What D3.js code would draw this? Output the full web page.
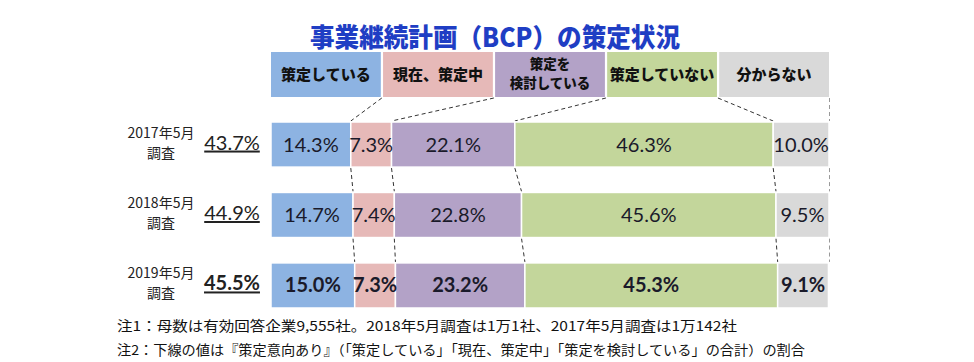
<!DOCTYPE html>
<html>
<head>
<meta charset="utf-8">
<script src="https://cdn.jsdelivr.net/npm/d3@7"></script>
<style>
  body { margin: 0; background: #fff; }
</style>
</head>
<body>
<div id="chart"></div>
<script>
const title = '事業継続計画（BCP）の策定状況'
const categories = ['策定している', '現在、策定中', '策定を|検討している', '策定していない', '分からない']
const colors = ['#8db3e2', '#e6b9b8', '#b3a2c7', '#c3d69b', '#d9d9d9']
const surveys = ['2017年5月', '2018年5月', '2019年5月']
const values2017 = [14.3, 7.3, 22.1, 46.3, 10.0]
const values2018 = [14.7, 7.4, 22.8, 45.6, 9.5]
const values2019 = [15.0, 7.3, 23.2, 45.3, 9.1]
const intentShare = [43.7, 44.9, 45.5]
const notes = [
  '注1：母数は有効回答企業9,555社。2018年5月調査は1万1社、2017年5月調査は1万142社',
  '注2：下線の値は『策定意向あり』（「策定している」「現在、策定中」「策定を検討している」の合計）の割合'
]

const W = 974, H = 362
const jp = '"Noto Sans CJK JP", sans-serif'
const num = 'Lato, "Open Sans", sans-serif'
const fmt = d => d3.format('.1f')(d) + '%'

const rows = [values2017, values2018, values2019]

const svg = d3.select('#chart').append('svg')
  .attr('width', W).attr('height', H)

const x = d3.scaleLinear().domain([0, 100]).range([271, 829])
const y = d3.scaleBand().domain(surveys).range([122, 308]).paddingInner(0.36)
const legendX = d3.scaleBand().domain(categories).range([271, 829]).paddingInner(0.02)
const legendTop = 52, legendBottom = 97

// title
svg.append('text')
  .attr('x', 310).attr('y', 47)
  .attr('textLength', 370)
  .attr('lengthAdjust', 'spacingAndGlyphs')
  .style('font-family', jp)
  .style('font-weight', 900)
  .style('font-size', '26px')
  .style('fill', '#1f3ec4')
  .text(title)

// legend boxes
const legend = svg.append('g').attr('class', 'legend')
legend.selectAll('rect')
  .data(categories)
  .enter()
  .append('rect')
  .attr('x', d => legendX(d))
  .attr('y', legendTop)
  .attr('width', legendX.bandwidth())
  .attr('height', legendBottom - legendTop)
  .style('fill', (d, i) => colors[i])

legend.selectAll('text')
  .data(categories)
  .enter()
  .append('text')
  .attr('x', d => legendX(d) + legendX.bandwidth() / 2)
  .attr('y', d => d.includes('|') ? 69 : 80)
  .attr('text-anchor', 'middle')
  .style('font-family', jp)
  .style('font-weight', 900)
  .style('font-size', d => d.includes('|') ? '13.5px' : '15px')
  .style('fill', '#111')
  .each(function (d) {
    const parts = d.split('|')
    d3.select(this).selectAll('tspan')
      .data(parts)
      .enter()
      .append('tspan')
      .attr('x', legendX(d) + legendX.bandwidth() / 2)
      .attr('dy', (p, i) => i === 0 ? 0 : 19)
      .text(p => p)
  })

// cumulative boundaries per row
const bounds = rows.map(r => {
  let acc = 0
  return r.map(v => { const s = acc; acc += v; return { start: s, end: acc, value: v } })
})

// dashed connectors: legend -> first row
const dash = svg.append('g').attr('class', 'connectors')
  .style('fill', 'none')
  .style('stroke-dasharray', '4,3')

for (let i = 0; i < categories.length; i++) {
  const last = i === categories.length - 1
  dash.append('line')
    .attr('x1', last ? 829.5 : legendX(categories[i]) + legendX.bandwidth() + 1)
    .attr('y1', legendBottom + 1)
    .attr('x2', last ? 829.5 : x(bounds[0][i].end))
    .attr('y2', y(surveys[0]) - 1)
    .style('stroke', last ? '#999' : '#333')
    .style('stroke-width', 1)
}

// dashed connectors between rows
for (let r = 0; r < rows.length - 1; r++) {
  for (let i = 0; i < categories.length; i++) {
    const last = i === categories.length - 1
    dash.append('line')
      .attr('x1', last ? 829.5 : x(bounds[r][i].end))
      .attr('y1', y(surveys[r]) + y.bandwidth() + 1)
      .attr('x2', last ? 829.5 : x(bounds[r + 1][i].end))
      .attr('y2', y(surveys[r + 1]) - 1)
      .style('stroke', last ? '#999' : '#333')
      .style('stroke-width', 1)
  }
}

// bars
const rowG = svg.selectAll('.row')
  .data(bounds)
  .enter()
  .append('g')
  .attr('class', 'row')
  .attr('transform', (d, i) => 'translate(0,' + y(surveys[i]) + ')')

rowG.selectAll('rect')
  .data(d => d)
  .enter()
  .append('rect')
  .attr('x', d => x(d.start))
  .attr('y', 0)
  .attr('width', d => x(d.end) - x(d.start))
  .attr('height', y.bandwidth())
  .style('fill', (d, i) => colors[i])
  .style('stroke', '#fff')
  .style('stroke-width', 1.5)

rowG.each(function (d, r) {
  d3.select(this).selectAll('text.val')
    .data(d)
    .enter()
    .append('text')
    .attr('class', 'val')
    .attr('x', s => (x(s.start) + x(s.end)) / 2)
    .attr('y', y.bandwidth() / 2 + 7)
    .attr('text-anchor', 'middle')
    .style('font-family', num)
    .style('font-size', '20px')
    .style('font-weight', r === 2 ? 'bold' : 'normal')
    .style('fill', '#1a1a2a')
    .text(s => fmt(s.value))
})

// left labels
const left = svg.selectAll('.left')
  .data(surveys)
  .enter()
  .append('g')
  .attr('class', 'left')
  .attr('transform', d => 'translate(0,' + (y(d) + y.bandwidth() / 2) + ')')

left.append('text')
  .attr('x', 161).attr('y', -7)
  .attr('text-anchor', 'middle')
  .style('font-family', jp)
  .style('font-size', '14px')
  .style('fill', '#222')
  .text(d => d)

left.append('text')
  .attr('x', 161).attr('y', 13)
  .attr('text-anchor', 'middle')
  .style('font-family', jp)
  .style('font-size', '14px')
  .style('fill', '#222')
  .text('調査')

left.append('text')
  .attr('x', 232).attr('y', 5)
  .attr('text-anchor', 'middle')
  .style('font-family', num)
  .style('font-size', '20px')
  .style('font-weight', (d, i) => i === 2 ? 'bold' : 'normal')
  .style('fill', '#222')
  .style('text-decoration', 'underline')
  .text((d, i) => fmt(intentShare[i]))

// notes
svg.selectAll('.note')
  .data(notes)
  .enter()
  .append('text')
  .attr('class', 'note')
  .attr('x', 117)
  .attr('y', (d, i) => 331 + i * 24)
  .attr('textLength', (d, i) => i === 0 ? 620 : 688)
  .attr('lengthAdjust', 'spacingAndGlyphs')
  .style('font-family', jp)
  .style('font-size', '13.5px')
  .style('fill', '#111')
  .text(d => d)
</script>
</body>
</html>
